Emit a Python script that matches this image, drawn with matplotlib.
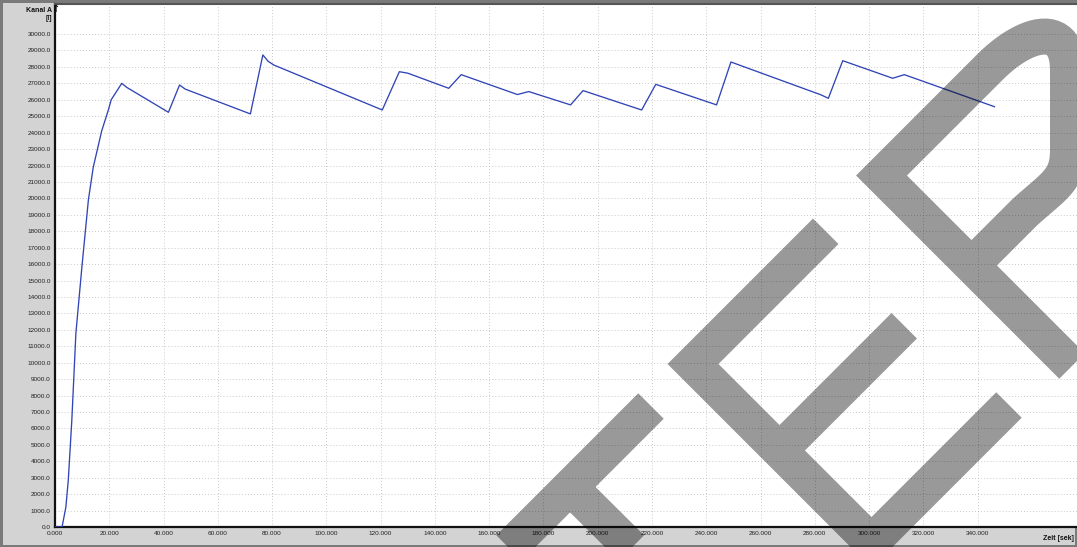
import numpy as np
import matplotlib
matplotlib.use("Agg")
import matplotlib.pyplot as plt
from matplotlib.ticker import FormatStrFormatter

zeit = [0.0, 2.6, 4.0, 4.9, 6.2, 7.7, 9.9, 12.3, 14.1, 17.2, 19.7, 20.7, 24.6,
        26.5, 41.8, 45.9, 48.0, 72.0, 76.6, 78.5, 80.6, 120.6, 126.9, 130.0,
        145.1, 149.7, 170.4, 174.6, 190.0, 194.6, 216.2, 221.4, 243.8, 249.1,
        282.3, 285.0, 290.3, 308.7, 313.0, 346.2]
kanal_a = [0, 0, 1200, 2860, 6500, 11800, 15800, 19900, 21900, 24100, 25400,
           26000, 27000, 26750, 25240, 26900, 26650, 25140, 28730, 28350, 28120,
           25380, 27710, 27620, 26700, 27530, 26320, 26500, 25690, 26560, 25380,
           26940, 25690, 28300, 26300, 26090, 28380, 27310, 27530, 25580]

x_ticks = np.arange(0, 341, 20)
y_ticks = np.arange(0, 30001, 1000)

W, H = 1077, 547
fig = plt.figure(figsize=(W / 100, H / 100), dpi=100)
fig.patch.set_facecolor("#d3d3d3")
fig.patch.set_edgecolor("#7a7a7a")
fig.patch.set_linewidth(2.5)


def box(x0, y0, x1, y1):
    # Pixelrechteck -> Figurkoordinaten
    return [x0 / W, 1 - y1 / H, (x1 - x0) / W, (y1 - y0) / H]


ax = fig.add_axes(box(55, 4, 1078, 527))
ax.set_facecolor("white")
ax.plot(zeit, kanal_a, color="#3145b5", lw=0.95, zorder=3)
ax.set_xlim(0, 377)
ax.set_ylim(0, 31830)
ax.set_xticks(x_ticks)
ax.set_yticks(y_ticks)
ax.xaxis.set_major_formatter(FormatStrFormatter("%.3f"))
ax.yaxis.set_major_formatter(FormatStrFormatter("%.1f"))
ax.tick_params(length=0, labelsize=4.6, labelcolor="#222222", pad=3)
for lab in ax.get_xticklabels() + ax.get_yticklabels():
    lab.set_family("Liberation Sans")
ax.grid(True, color="#aaaaaa", linestyle=(0, (1, 3)), lw=0.55)
ax.spines["right"].set_visible(False)
ax.spines["top"].set_color("#555555")
ax.spines["top"].set_linewidth(1.5)
ax.spines["left"].set_color("#111111")
ax.spines["left"].set_linewidth(1.6)
ax.spines["bottom"].set_color("#111111")
ax.spines["bottom"].set_linewidth(1.6)

# Achsenbeschriftungen
fig.text(52 / W, 1 - 10 / H, "Kanal A", ha="right", va="center", fontsize=5,
         fontweight="bold", family="Liberation Sans", color="#111111")
fig.text(52 / W, 1 - 19 / H, "[l]", ha="right", va="center", fontsize=5,
         fontweight="bold", family="Liberation Sans", color="#111111")
fig.text(55.5 / W, 1 - 9 / H, "\u2191", ha="center", va="center", fontsize=7,
         fontweight="bold", family="DejaVu Sans", color="#111111")
fig.text(1043 / W, 1 - 538 / H, "Zeit [sek]", ha="left", va="center",
         fontsize=5, fontweight="bold", family="Liberation Sans", color="#111111")

# Wasserzeichen (grauer Schriftzug, schraeg)
wm = fig.add_axes([0, 0, 1, 1], zorder=5)
wm.set_xlim(0, W)
wm.set_ylim(H, 0)
wm.axis("off")
wm.patch.set_alpha(0)


def bezier(p0, p1, p2, p3, n=25):
    t = np.linspace(0, 1, n)[:, None]
    p0, p1, p2, p3 = [np.array(p, dtype=float) for p in (p0, p1, p2, p3)]
    b = (1 - t) ** 3 * p0 + 3 * (1 - t) ** 2 * t * p1 + 3 * (1 - t) * t ** 2 * p2 + t ** 3 * p3
    return [tuple(q) for q in b]


strokes = []
# T
strokes.append([(497, 560), (651, 406)])
strokes.append([(570, 487), (643.5, 560)])
# E
strokes.append([(825.75, 231.25), (693, 364), (871.5, 542.5), (1009, 405)])
strokes.append([(779.5, 450.5), (904.25, 325.75)])
# P mit Bogen
p_path = [(1072, 366), (881.5, 175.5)]
p_path += bezier((990, 67), (1025, 32), (1068, 20), (1068, 70))
p_path += bezier((1068, 150), (1068, 180), (1055, 185), (1025, 212))
p_path += [(971, 266)]
strokes.append(p_path)

xs, ys = [], []
for s in strokes:
    xs += [p[0] for p in s] + [np.nan]
    ys += [p[1] for p in s] + [np.nan]
wm.plot(xs, ys, color="black", alpha=0.4, lw=36 * 0.72,
        solid_capstyle="butt", solid_joinstyle="miter")

fig.savefig("out.png", dpi=100, facecolor=fig.get_facecolor(),
            edgecolor=fig.get_edgecolor())
